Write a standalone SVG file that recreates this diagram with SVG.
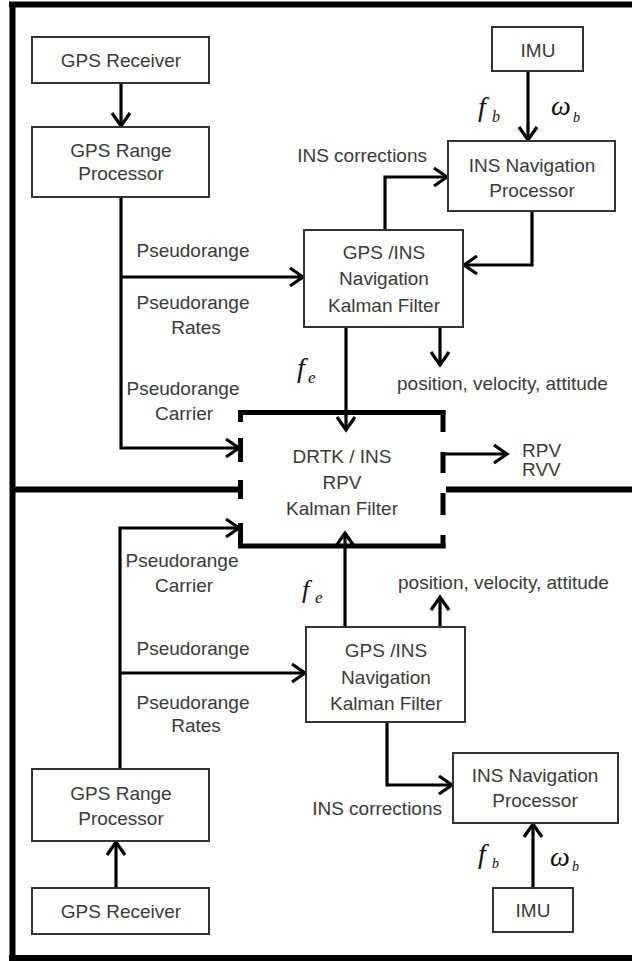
<svg xmlns="http://www.w3.org/2000/svg" width="632" height="961" viewBox="0 0 632 961">
<style>
.box{fill:#fff;stroke:#333;stroke-width:2}
.t{font-family:"Liberation Sans",Arial,sans-serif;font-size:19px;fill:#3a3a3a;text-anchor:middle}
.te{font-family:"Liberation Sans",Arial,sans-serif;font-size:19px;fill:#3a3a3a;text-anchor:end}
.ts{font-family:"Liberation Sans",Arial,sans-serif;font-size:19px;fill:#3a3a3a;text-anchor:start}
.m{font-family:"Liberation Serif","Times New Roman",serif;font-style:italic;fill:#111}
.c{fill:none;stroke:#000;stroke-width:3.2}
.thick{fill:none;stroke:#000;stroke-width:6}
.dash{fill:none;stroke:#000;stroke-width:5}
</style>
<defs>
<marker id="ah" markerUnits="userSpaceOnUse" markerWidth="20" markerHeight="24" viewBox="-16 -12 20 24" refX="0" refY="0" orient="auto">
<path d="M-13,-9 L0,0 L-13,9" fill="none" stroke="#000" stroke-width="3.2"/>
</marker>
</defs>
<rect width="632" height="961" fill="#fff"/>
<g id="frame">
<line class="thick" x1="9" y1="4.5" x2="632" y2="4.5"/>
<line class="thick" x1="12.5" y1="2" x2="12.5" y2="961"/>
<line class="thick" x1="9" y1="958" x2="632" y2="958"/>
<line class="thick" x1="12" y1="489.5" x2="243" y2="489.5"/>
<line class="thick" x1="446" y1="489.5" x2="632" y2="489.5"/>
</g>
<g id="connectors">
<line class="c" x1="121" y1="83" x2="121" y2="126" marker-end="url(#ah)"/>
<polyline class="c" points="121,197 121,448 239,448" marker-end="url(#ah)"/>
<line class="c" x1="121" y1="277" x2="303" y2="277" marker-end="url(#ah)"/>
<line class="c" x1="528" y1="71" x2="528" y2="140" marker-end="url(#ah)"/>
<polyline class="c" points="385,230 385,177 447,177" marker-end="url(#ah)"/>
<polyline class="c" points="532,211 532,265 464,265" marker-end="url(#ah)"/>
<line class="c" x1="440" y1="327" x2="440" y2="365" marker-end="url(#ah)"/>
<line class="c" x1="346" y1="327" x2="346" y2="430" marker-end="url(#ah)"/>
<line class="c" x1="443" y1="454" x2="507" y2="454" marker-end="url(#ah)"/>
<line class="c" x1="116" y1="888" x2="116" y2="842" marker-end="url(#ah)"/>
<polyline class="c" points="120,769 120,528 239,528" marker-end="url(#ah)"/>
<line class="c" x1="120" y1="673" x2="305" y2="673" marker-end="url(#ah)"/>
<line class="c" x1="345" y1="627" x2="345" y2="533" marker-end="url(#ah)"/>
<line class="c" x1="440" y1="627" x2="440" y2="597" marker-end="url(#ah)"/>
<polyline class="c" points="387,722 387,785 452,785" marker-end="url(#ah)"/>
<line class="c" x1="533" y1="888" x2="533" y2="824" marker-end="url(#ah)"/>
</g>
<g id="gps_receiver_top">
<rect class="box" x="32" y="37" width="177" height="46"/>
<text class="t" x="121" y="67">GPS Receiver</text>
</g>
<g id="gps_range_top">
<rect class="box" x="32" y="127" width="177" height="70"/>
<text class="t" x="121" y="157">GPS Range</text>
<text class="t" x="121" y="180">Processor</text>
</g>
<g id="imu_top">
<rect class="box" x="492" y="27" width="91" height="44"/>
<text class="t" x="538" y="57">IMU</text>
</g>
<g id="ins_nav_top">
<rect class="box" x="448" y="141" width="167" height="70"/>
<text class="t" x="532" y="172">INS Navigation</text>
<text class="t" x="532" y="197">Processor</text>
</g>
<g id="kf_top">
<rect class="box" x="304" y="230" width="159" height="97"/>
<text class="t" x="384" y="259">GPS /INS</text>
<text class="t" x="384" y="285">Navigation</text>
<text class="t" x="384" y="312">Kalman Filter</text>
</g>
<g id="drtk">
<line class="dash" x1="238" y1="412.5" x2="445.5" y2="412.5"/>
<line class="dash" x1="238" y1="546" x2="445.5" y2="546"/>
<path class="dash" d="M240.5,410 V422 M240.5,438 V462 M240.5,480 V499 M240.5,523 V548"/>
<path class="dash" d="M443,410 V432 M443,452 V473 M443,493 V515 M443,535 V548"/>
<text class="t" x="342" y="463">DRTK / INS</text>
<text class="t" x="342" y="489">RPV</text>
<text class="t" x="342" y="515">Kalman Filter</text>
</g>
<g id="kf_bottom">
<rect class="box" x="306" y="627" width="159" height="95"/>
<text class="t" x="386" y="657">GPS /INS</text>
<text class="t" x="386" y="684">Navigation</text>
<text class="t" x="386" y="710">Kalman Filter</text>
</g>
<g id="ins_nav_bottom">
<rect class="box" x="453" y="753" width="165" height="70"/>
<text class="t" x="535" y="782">INS Navigation</text>
<text class="t" x="535" y="807">Processor</text>
</g>
<g id="imu_bottom">
<rect class="box" x="493" y="888" width="80" height="44"/>
<text class="t" x="533" y="917">IMU</text>
</g>
<g id="gps_range_bottom">
<rect class="box" x="32" y="769" width="177" height="72"/>
<text class="t" x="121" y="800">GPS Range</text>
<text class="t" x="121" y="825">Processor</text>
</g>
<g id="gps_receiver_bottom">
<rect class="box" x="32" y="888" width="177" height="46"/>
<text class="t" x="121" y="918">GPS Receiver</text>
</g>
<g id="labels">
<text class="te" x="427" y="162">INS corrections</text>
<text class="t" x="193" y="257">Pseudorange</text>
<text class="t" x="193" y="309">Pseudorange</text>
<text class="t" x="196" y="334">Rates</text>
<text class="t" x="183" y="395">Pseudorange</text>
<text class="t" x="184" y="420">Carrier</text>
<text class="ts" x="397" y="390">position, velocity, attitude</text>
<text class="ts" x="522" y="457">RPV</text>
<text class="ts" x="522" y="476">RVV</text>
<text class="t" x="182" y="567">Pseudorange</text>
<text class="t" x="184" y="592">Carrier</text>
<text class="ts" x="398" y="589">position, velocity, attitude</text>
<text class="t" x="193" y="655">Pseudorange</text>
<text class="t" x="193" y="709">Pseudorange</text>
<text class="t" x="196" y="732">Rates</text>
<text class="te" x="442" y="815">INS corrections</text>
<text class="m" x="478" y="116" font-size="28">f</text>
<text class="m" x="492" y="122" font-size="16">b</text>
<text class="m" x="551" y="115" font-size="28">ω</text>
<text class="m" x="573" y="122" font-size="14">b</text>
<text class="m" x="297" y="377" font-size="28">f</text>
<text class="m" x="308" y="383" font-size="17">e</text>
<text class="m" x="302" y="598" font-size="26">f</text>
<text class="m" x="315" y="603" font-size="17">e</text>
<text class="m" x="478" y="863" font-size="28">f</text>
<text class="m" x="492" y="868" font-size="14">b</text>
<text class="m" x="550" y="866" font-size="28">ω</text>
<text class="m" x="572" y="871" font-size="14">b</text>
</g>
</svg>
